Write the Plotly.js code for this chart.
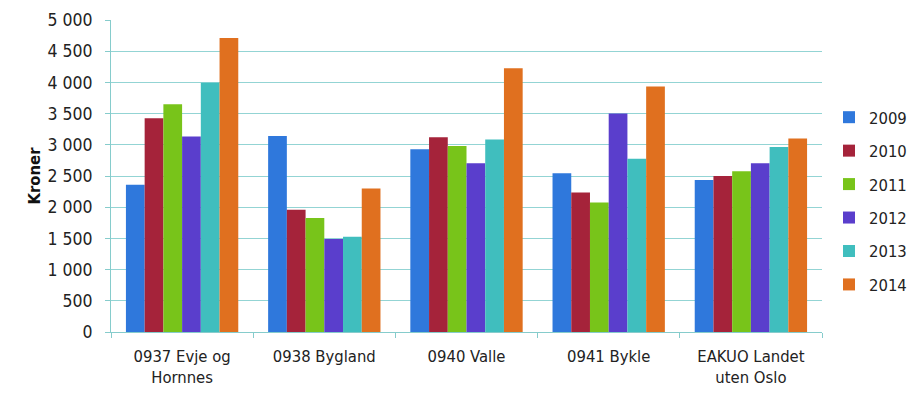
<!DOCTYPE html>
<html>
<head>
<meta charset="utf-8">
<script src="https://cdn.plot.ly/plotly-3.0.1.min.js"></script>
<style>html,body{margin:0;padding:0;background:#fff;}#chart{width:923px;height:402px;}</style>
</head>
<body>
<div id="chart"></div>
<script>
const categories = ["0937 Evje og<br>Hornnes", "0938 Bygland", "0940 Valle", "0941 Bykle", "EAKUO Landet<br>uten Oslo"];
const years = ["2009", "2010", "2011", "2012", "2013", "2014"];
const v2009 = [2360, 3140, 2930, 2545, 2435];
const v2010 = [3425, 1960, 3120, 2235, 2500];
const v2011 = [3650, 1825, 2980, 2075, 2575];
const v2012 = [3135, 1490, 2705, 3500, 2705];
const v2013 = [3995, 1525, 3085, 2775, 2965];
const v2014 = [4710, 2300, 4225, 3935, 3100];
const colors = ["#2F78DC", "#A5233A", "#78C41A", "#5A3ECC", "#40BEBE", "#E0701F"];

const series = [v2009, v2010, v2011, v2012, v2013, v2014];
const font = "'DejaVu Sans Condensed', 'DejaVu Sans', sans-serif";
const traces = series.map((vals, i) => ({
  type: "bar",
  name: years[i],
  x: categories,
  y: vals,
  marker: {color: colors[i], line: {width: 0}},
  legendgroup: years[i],
  hoverinfo: "x+y+name"
}));

const layout = {
  width: 923, height: 402,
  margin: {l: 111, r: 101, t: 20, b: 70, autoexpand: false},
  paper_bgcolor: "#fff", plot_bgcolor: "#fff",
  separators: ", ",
  barmode: "group",
  bargap: 0.21,
  bargroupgap: 0,
  font: {family: font, color: "#222", size: 15},
  xaxis: {
    showgrid: false,
    showline: true, linecolor: "#86cccc", linewidth: 1,
    ticks: "outside", tickson: "boundaries", ticklen: 5, tickcolor: "#86cccc",
    tickfont: {family: font, size: 16.5, color: "#222"},
    ticklabelstandoff: 9,
    zeroline: false
  },
  yaxis: {
    range: [0, 5000], dtick: 500,
    separatethousands: true,
    showgrid: true, gridcolor: "#93d4d4", gridwidth: 1,
    showline: true, linecolor: "#86cccc", linewidth: 1,
    ticks: "outside", ticklen: 5, tickcolor: "#86cccc",
    tickfont: {family: font, size: 17.5, color: "#222"},
    ticklabelstandoff: 9,
    zeroline: false,
    title: {text: "<b>Kroner</b>", font: {family: font, size: 16.5, color: "#111"}, standoff: 2}
  },
  legend: {
    xanchor: "left", y: 0.42, yanchor: "middle",
    traceorder: "grouped", tracegroupgap: 9,
    font: {family: font, size: 16.5, color: "#222"},
    itemwidth: 30
  },
  showlegend: true
};
layout.legend.x = 1 + 7 / 711;

Plotly.newPlot("chart", traces, layout, {displayModeBar: false, staticPlot: true});
</script>
</body>
</html>
